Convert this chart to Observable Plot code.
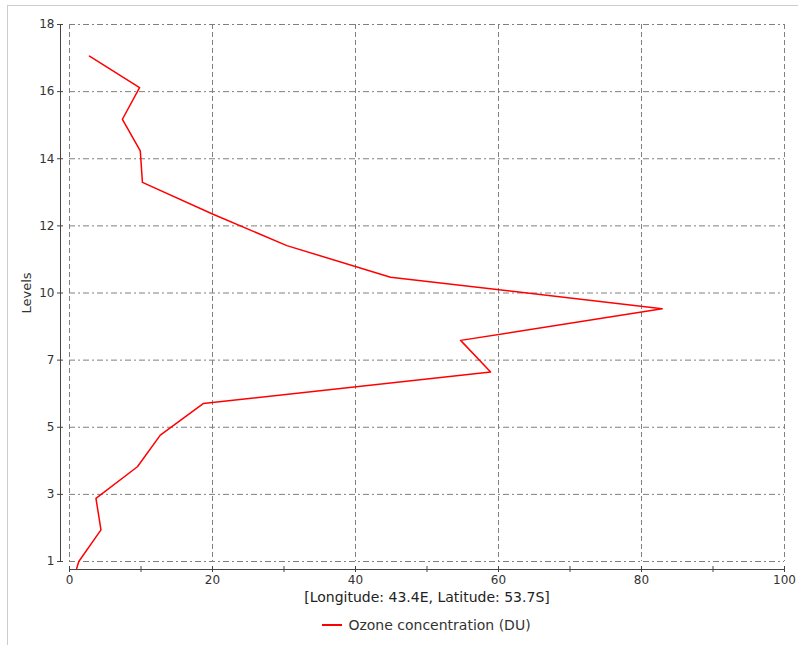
<!DOCTYPE html>
<html>
<head>
<meta charset="utf-8">
<script src="https://cdn.jsdelivr.net/npm/d3@7"></script>
<script src="https://cdn.jsdelivr.net/npm/@observablehq/plot@0.6"></script>
<style>
  html, body { margin: 0; padding: 0; background: #fff; overflow: hidden; }
  body { width: 798px; height: 645px; position: relative; font-family: "DejaVu Sans", sans-serif; }
  #frame { position: absolute; left: 7px; top: 5px; width: 900px; height: 700px; border: 1px solid #cccccc; box-sizing: border-box; }
  #chart { position: absolute; left: 0; top: 0; }
  #legend { position: absolute; left: 69px; width: 715px; top: 617px; text-align: center; font-size: 14px; color: #333; }
  #legend .sw { display: inline-block; width: 20px; height: 2px; background: #ff0000; vertical-align: middle; margin-right: 6px; position: relative; top: -1px; }
</style>
</head>
<body>
<div id="frame"></div>
<div id="chart"></div>
<div id="legend"></div>
<script>
// ---- data ----
const levels = [0.78, 1, 2, 3, 4, 5, 6, 7, 8, 9, 10, 11, 12, 13, 14, 15, 16, 17];
const ozone  = [1.0, 1.3, 4.4, 3.7, 9.5, 12.7, 18.7, 58.9, 54.7, 82.9, 44.9, 30.4, 20.0, 10.2, 9.9, 7.4, 9.8, 2.8];
const xTickValues = [0, 10, 20, 30, 40, 50, 60, 70, 80, 90, 100];
const xGridValues = [0, 20, 40, 60, 80, 100];
const yTickLabels = ["1", "3", "5", "7", "10", "12", "14", "16", "18"];
const yDomain = [1, 18];
const xDomain = [0, 100];
const yLabel = "Levels";
const xLabel = "[Longitude: 43.4E, Latitude: 53.7S]";
const seriesName = "Ozone concentration (DU)";

const rows = levels.map((l, i) => ({level: l, value: ozone[i]}));
// ticks evenly spaced across the level range, labelled with rounded values
const yTicks = yTickLabels.map((_, i) => yDomain[0] + i * (yDomain[1] - yDomain[0]) / (yTickLabels.length - 1));

const chart = Plot.plot({
  width: 798,
  height: 610,
  marginLeft: 69,
  marginRight: 14,
  marginTop: 24,
  marginBottom: 49,
  style: {fontFamily: "DejaVu Sans, sans-serif", fontSize: "12px", color: "#333", background: "transparent"},
  x: {domain: xDomain},
  y: {domain: yDomain},
  marks: [
    Plot.gridX(xGridValues, {stroke: "#808080", strokeOpacity: 1, strokeDasharray: "5,3"}),
    Plot.gridY(yTicks, {stroke: "#808080", strokeOpacity: 1, strokeDasharray: "6,3,2,3"}),
    Plot.ruleY([yDomain[0]], {dy: 8, stroke: "#444"}),
    Plot.ruleX([xDomain[0]], {dx: -9, stroke: "#444"}),
    Plot.axisX(xTickValues, {anchor: "bottom", dy: 5, tickSize: 6, tickPadding: 3, stroke: "#444",
      tickFormat: d => (d % 20 === 0 ? String(d) : ""), label: null, fill: "#333"}),
    Plot.axisY(yTicks, {anchor: "left", dx: -6, tickSize: 6, tickPadding: 3, stroke: "#444",
      tickFormat: (d, i) => yTickLabels[i], label: null, fill: "#333"}),
    Plot.line(rows, {x: "value", y: "level", stroke: "#ff0000", strokeWidth: 1.5, curve: "linear"}),
    Plot.text([yLabel], {frameAnchor: "left", textAnchor: "middle", rotate: -90, dx: -43, dy: 0, fontSize: 13, fill: "#333"}),
    Plot.text([xLabel], {frameAnchor: "bottom", textAnchor: "middle", dy: 40, fontSize: 14, fill: "#222"})
  ]
});
document.getElementById("chart").appendChild(chart);
document.getElementById("legend").innerHTML = '<span class="sw"></span>' + seriesName;
</script>
</body>
</html>
